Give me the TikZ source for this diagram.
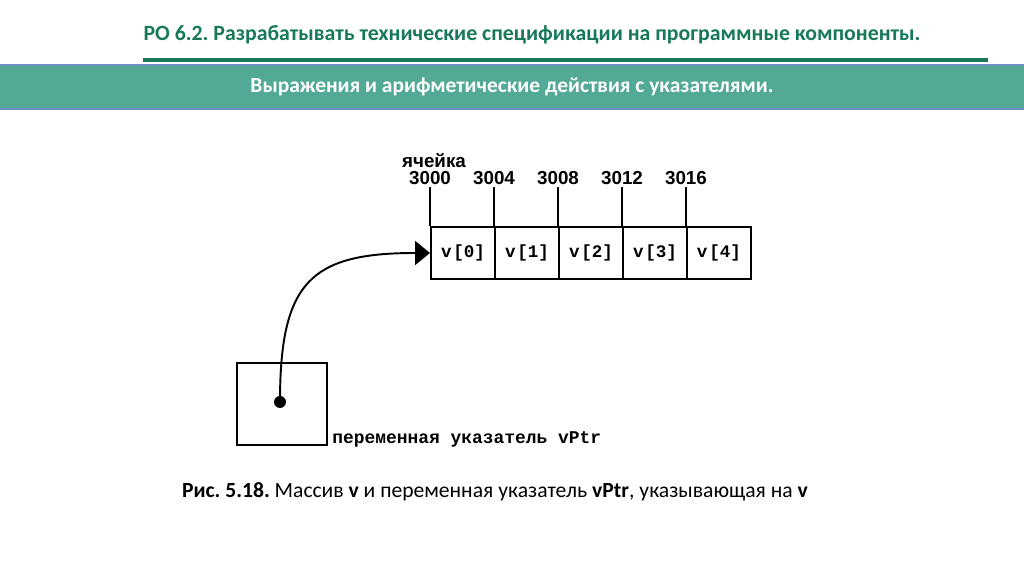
\documentclass[tikz,border=0pt]{standalone}
\usepackage{fontspec}
\setmainfont{Carlito}
\newfontfamily\cellfont{Liberation Mono}
\newfontfamily\addrfont{Liberation Sans}
\usetikzlibrary{positioning,arrows.meta}
\frenchspacing

\definecolor{titlegreen}{HTML}{17785A}
\definecolor{bandteal}{HTML}{52A995}
\definecolor{bandedge}{HTML}{6D8FC0}

\tikzset{
  cell/.style={draw, line width=1.1pt, minimum width=1.28cm, minimum height=1.04cm,
    font=\cellfont\bfseries\fontsize{10}{12}\selectfont},
  addr/.style={font=\addrfont\bfseries\fontsize{10.7}{12}\selectfont, inner sep=1pt},
  tick/.style={line width=1pt},
}

\begin{document}
\begin{tikzpicture}[x=0.02cm, y=0.02cm, node distance=1.28cm]
    \useasboundingbox (0,0) rectangle (1024,574);

    % header
    \node[font=\bfseries\fontsize{12.4}{14}\selectfont, text=titlegreen] (title) at (532,539)
        {РО 6.2. Разрабатывать технические спецификации на программные компоненты.};
    \draw[titlegreen, line width=1.8pt] (143,514) -- (988,514);
    \fill[bandteal] (0,465) rectangle (1024,509);
    \draw[bandedge, line width=0.6pt] (0,509) -- (1024,509) (0,465) -- (1024,465);
    \node[font=\bfseries\fontsize{12.2}{14}\selectfont, text=white] (band) at (512,487)
        {Выражения и арифметические действия с указателями.};

    % array v
    \node[cell] (c0) at (463,321) {v\kern1pt[0]};
    \node[cell, right of=c0] (c1) {v\kern1pt[1]};
    \node[cell, right of=c1] (c2) {v\kern1pt[2]};
    \node[cell, right of=c2] (c3) {v\kern1pt[3]};
    \node[cell, right of=c3] (c4) {v\kern1pt[4]};

    % addresses
    \draw[tick] (c0.north west) -- ++(0,39) coordinate (t0);
    \draw[tick] (c1.north west) -- ++(0,39) coordinate (t1);
    \draw[tick] (c2.north west) -- ++(0,39) coordinate (t2);
    \draw[tick] (c3.north west) -- ++(0,39) coordinate (t3);
    \draw[tick] (c4.north west) -- ++(0,39) coordinate (t4);
    \node[addr, above] (a0) at (t0) {3000};
    \node[addr, above] (a1) at (t1) {3004};
    \node[addr, above] (a2) at (t2) {3008};
    \node[addr, above] (a3) at (t3) {3012};
    \node[addr, above] (a4) at (t4) {3016};
    \node[addr, above=0pt of a0, xshift=0.08cm] (cellname) {ячейка};

    % pointer vPtr
    \node[draw, line width=1.1pt, minimum width=1.8cm, minimum height=1.64cm] (ptr) at (282,170) {};
    \node[circle, fill, inner sep=0pt, minimum size=0.24cm] (dot) at (280,172) {};
    \node[anchor=base west, inner sep=0pt, font=\cellfont\bfseries\fontsize{10.2}{12}\selectfont] (ptrname) at (332,130)
        {переменная указатель vPtr};
    \draw[line width=1.1pt, -{Triangle[length=0.3cm, width=0.48cm]}] (dot.center)
        to[out=90, in=180, looseness=1.45] (c0.west);

    % caption
    \node[font=\fontsize{12.3}{14}\selectfont] (caption) at (495,82)
        {\textbf{Рис. 5.18.} Массив \textbf{v} и переменная указатель \textbf{vPtr}, указывающая на \textbf{v}};
\end{tikzpicture}
\end{document}
